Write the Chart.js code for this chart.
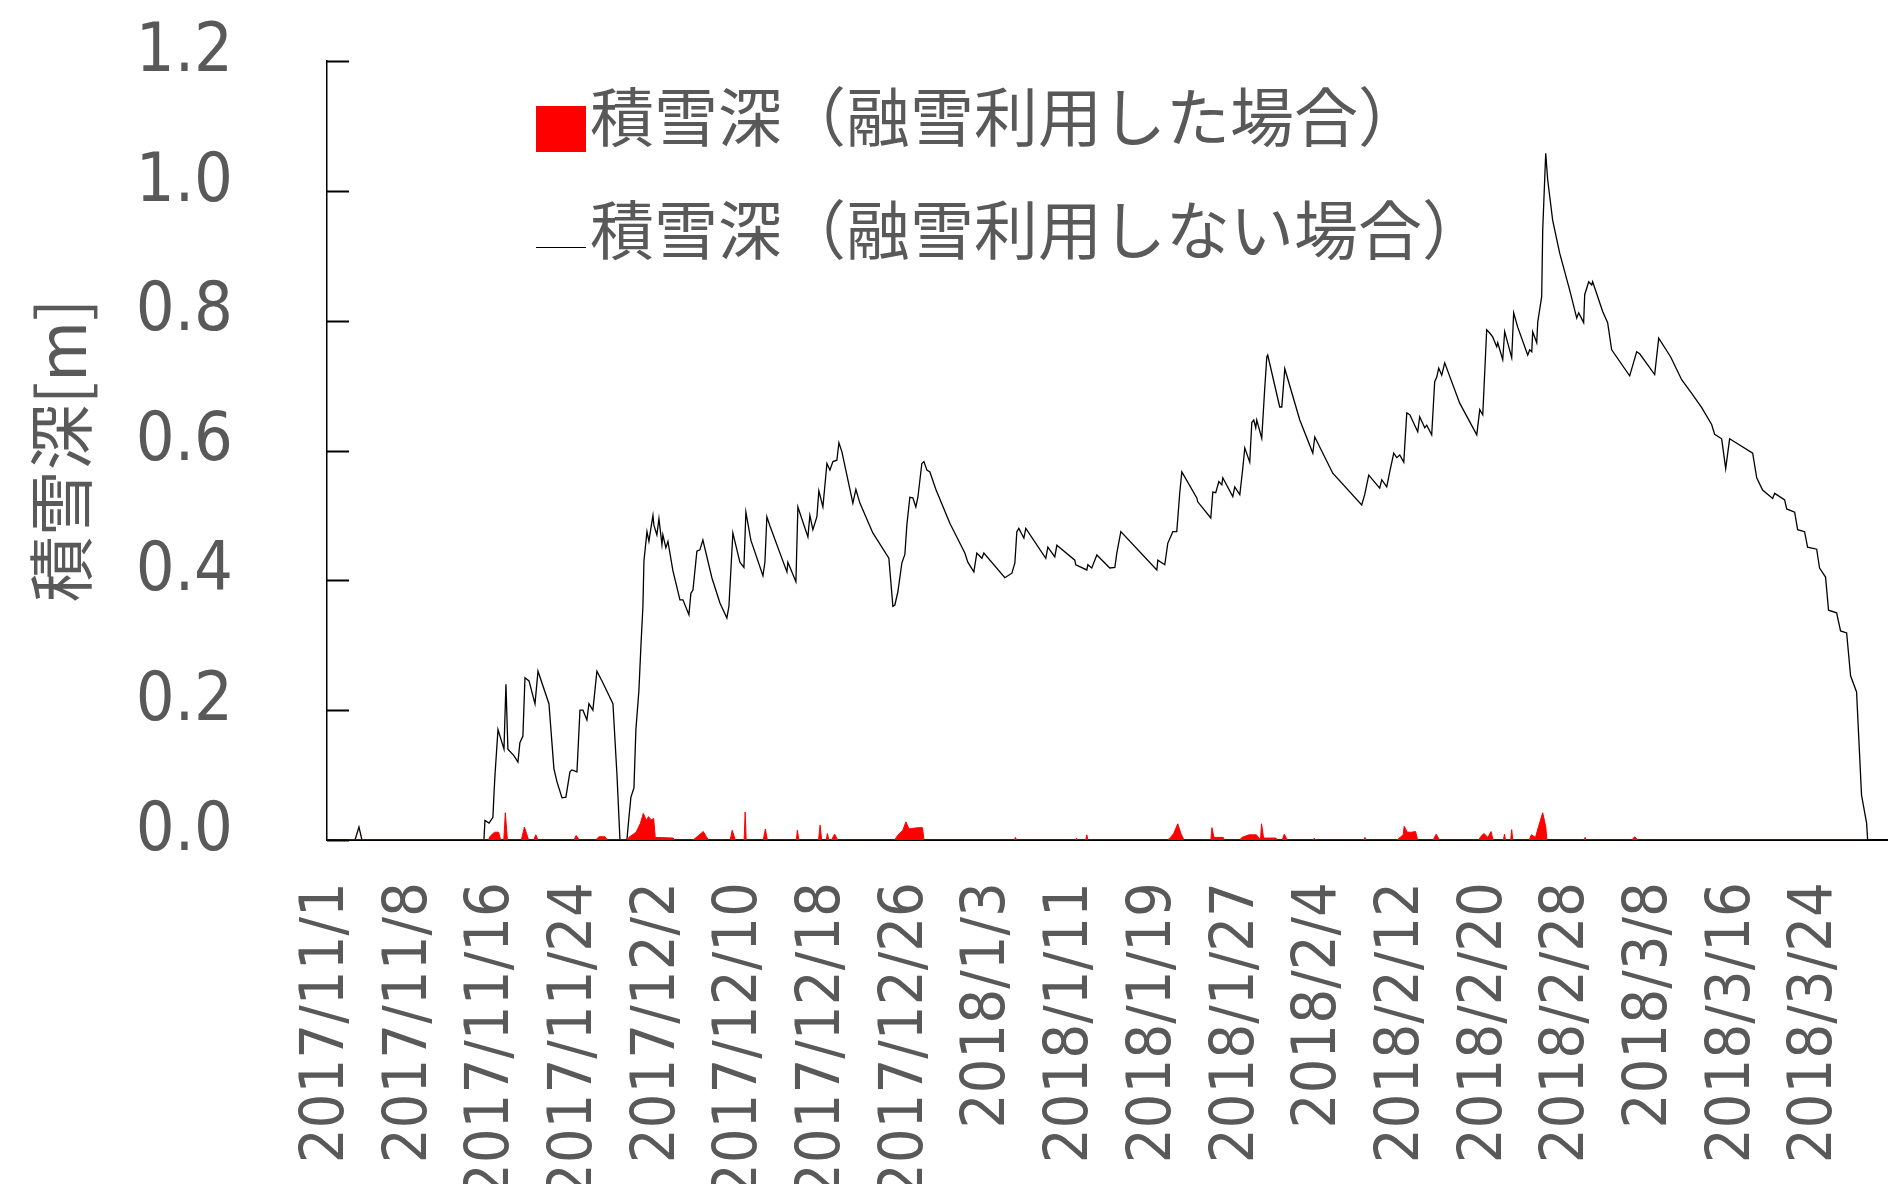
<!DOCTYPE html>
<html lang="ja">
<head>
<meta charset="utf-8">
<title>積雪深</title>
<script src="https://cdn.jsdelivr.net/npm/chart.js@4.4.1/dist/chart.umd.min.js"></script>
<style>
  html, body { margin: 0; padding: 0; background: #fff; }
  #marco { width: 1888px; height: 1184px; }
</style>
</head>
<body>
<div id="marco"><canvas id="graficoNieve" width="1888" height="1184"></canvas></div>
<script>
// === Datos: días transcurridos en el eje y profundidad de nieve [m] ===
const tickLabels = ['2017/11/1', '2017/11/8', '2017/11/16', '2017/11/24', '2017/12/2', '2017/12/10',
  '2017/12/18', '2017/12/26', '2018/1/3', '2018/1/11', '2018/1/19', '2018/1/27', '2018/2/4',
  '2018/2/12', '2018/2/20', '2018/2/28', '2018/3/8', '2018/3/16', '2018/3/24'];
const tickDays = [0, 8, 16, 24, 32, 40, 48, 56, 64, 72, 80, 88, 96, 104, 112, 120, 128, 136, 144];

// 積雪深（融雪利用しない場合）
const noMeltDay = [
  0, 2.71, 3.09, 3.38, 15.18, 15.28, 15.67, 16.05, 16.15, 16.25,
  16.54, 17.12, 17.31, 17.50, 18.08, 18.47, 18.66, 18.95, 19.15, 19.54,
  20.12, 20.41, 21.47, 21.95, 22.24, 22.73, 23.11, 23.50, 23.69, 24.18,
  24.47, 24.76, 25.14, 25.34, 25.72, 26.11, 26.60, 27.66, 28.05, 28.34,
  29.01, 29.21, 29.40, 29.69, 29.88, 30.17, 30.37, 30.56, 30.66, 30.95,
  31.14, 31.33, 31.53, 31.62, 31.91, 32.11, 32.40, 32.49, 32.78, 32.98,
  33.46, 34.14, 34.43, 35.01, 35.20, 35.40, 35.78, 36.07, 36.36, 37.23,
  38.01, 38.68, 38.88, 39.26, 39.94, 40.33, 40.52, 41.00, 42.17, 42.36,
  42.55, 42.84, 44.49, 44.58, 45.36, 45.55, 46.52, 46.71, 47.00, 47.39,
  47.58, 47.97, 48.36, 48.65, 48.94, 49.32, 49.52, 49.81, 50.87, 51.16,
  51.55, 52.80, 54.35, 54.74, 54.93, 55.22, 55.61, 55.90, 56.09, 56.38,
  56.67, 56.96, 57.16, 57.54, 57.74, 58.03, 58.32, 58.90, 60.25, 61.70,
  61.99, 62.57, 62.86, 63.35, 63.54, 65.57, 66.25, 66.54, 66.73, 66.92,
  67.41, 67.60, 69.53, 69.73, 70.40, 70.60, 72.34, 72.43, 73.50, 73.60,
  73.98, 74.47, 75.72, 76.21, 76.40, 76.79, 80.27, 80.37, 81.04, 81.33,
  81.82, 82.20, 82.49, 82.69, 84.14, 84.23, 85.49, 85.69, 85.97, 86.27,
  86.56, 86.65, 87.62, 87.81, 88.30, 88.59, 88.78, 89.26, 89.46, 89.65,
  89.84, 89.94, 90.42, 90.71, 90.91, 91.00, 92.16, 92.36, 92.65, 94.10,
  95.36, 95.55, 97.29, 100.09, 100.38, 100.77, 101.83, 102.03, 102.51, 102.80,
  103.19, 103.48, 103.77, 104.16, 104.45, 104.74, 105.51, 105.70, 106.19, 106.38,
  106.86, 107.15, 107.35, 107.54, 107.83, 108.12, 109.57, 111.22, 111.51, 111.80,
  112.18, 112.47, 112.76, 113.15, 113.25, 113.73, 113.92, 114.60, 114.79, 115.18,
  116.15, 116.34, 116.54, 116.63, 117.02, 117.12, 117.50, 117.60, 117.89, 118.08,
  118.56, 119.24, 120.21, 120.89, 121.08, 121.56, 121.66, 122.05, 122.34, 122.43,
  123.40, 123.88, 124.27, 126.01, 126.69, 126.98, 128.43, 128.82, 129.98, 131.04,
  132.01, 132.98, 133.94, 134.23, 134.91, 135.30, 135.68, 137.91, 138.30, 138.87,
  139.84, 140.04, 141.00, 141.20, 141.97, 142.26, 142.93, 143.22, 144.10, 144.38,
  144.96, 145.25, 146.03, 146.41, 147.00, 147.38, 147.96, 148.44, 148.93, 149.03
];
const noMeltDepth = [
  0, 0, 0.02, 0, 0, 0.03, 0.026, 0.035, 0.07, 0.10,
  0.17, 0.14, 0.24, 0.14, 0.13, 0.12, 0.15, 0.16, 0.25, 0.245,
  0.21, 0.26, 0.21, 0.11, 0.09, 0.065, 0.066, 0.105, 0.108, 0.105,
  0.20, 0.20, 0.185, 0.21, 0.20, 0.26, 0.245, 0.21, 0.10, 0,
  0, 0.035, 0.066, 0.08, 0.17, 0.23, 0.30, 0.36, 0.43, 0.475,
  0.46, 0.48, 0.50, 0.485, 0.47, 0.495, 0.455, 0.47, 0.45, 0.46,
  0.415, 0.37, 0.37, 0.347, 0.38, 0.385, 0.445, 0.447, 0.462, 0.404,
  0.365, 0.342, 0.36, 0.473, 0.428, 0.42, 0.505, 0.462, 0.407, 0.428,
  0.498, 0.484, 0.413, 0.428, 0.398, 0.513, 0.467, 0.50, 0.478, 0.498,
  0.538, 0.513, 0.58, 0.57, 0.583, 0.585, 0.612, 0.598, 0.519, 0.54,
  0.519, 0.473, 0.434, 0.36, 0.362, 0.382, 0.427, 0.44, 0.485, 0.528,
  0.527, 0.513, 0.528, 0.58, 0.583, 0.57, 0.567, 0.54, 0.488, 0.442,
  0.428, 0.413, 0.442, 0.434, 0.442, 0.404, 0.411, 0.427, 0.475, 0.48,
  0.465, 0.48, 0.434, 0.451, 0.436, 0.454, 0.431, 0.424, 0.416, 0.424,
  0.419, 0.439, 0.419, 0.42, 0.442, 0.475, 0.416, 0.431, 0.424, 0.457,
  0.475, 0.475, 0.535, 0.567, 0.527, 0.521, 0.496, 0.536, 0.535, 0.552,
  0.547, 0.558, 0.529, 0.544, 0.532, 0.573, 0.604, 0.582, 0.643, 0.647,
  0.635, 0.647, 0.619, 0.696, 0.744, 0.747, 0.667, 0.667, 0.726, 0.647,
  0.596, 0.621, 0.565, 0.516, 0.532, 0.562, 0.542, 0.555, 0.544, 0.567,
  0.596, 0.589, 0.593, 0.582, 0.658, 0.655, 0.629, 0.652, 0.635, 0.639,
  0.624, 0.706, 0.713, 0.727, 0.716, 0.735, 0.673, 0.624, 0.663, 0.655,
  0.786, 0.781, 0.775, 0.76, 0.766, 0.74, 0.783, 0.743, 0.812, 0.79,
  0.747, 0.755, 0.752, 0.783, 0.766, 0.798, 0.837, 0.94, 1.058, 1.017,
  0.955, 0.904, 0.847, 0.804, 0.812, 0.797, 0.84, 0.86, 0.855, 0.86,
  0.814, 0.797, 0.755, 0.715, 0.752, 0.749, 0.717, 0.773, 0.744, 0.709,
  0.688, 0.666, 0.640, 0.625, 0.618, 0.572, 0.618, 0.596, 0.558, 0.539,
  0.526, 0.534, 0.524, 0.51, 0.505, 0.478, 0.475, 0.451, 0.448, 0.419,
  0.405, 0.354, 0.35, 0.322, 0.319, 0.253, 0.228, 0.069, 0.026, 0
];

// 積雪深（融雪利用した場合）
const meltDay = [
  0, 15.6, 15.8, 16.2, 16.6, 16.8, 17.1, 17.25, 17.45, 18.8,
  19.1, 19.3, 19.5, 20.0, 20.2, 20.4, 23.9, 24.1, 24.4, 26.0,
  26.3, 26.9, 27.1, 29.0, 29.2, 29.9, 30.3, 30.6, 30.9, 31.1,
  31.35, 31.6, 31.75, 33.5, 33.6, 35.4, 35.8, 36.4, 36.7, 36.9,
  39.0, 39.2, 39.5, 40.35, 40.45, 40.55, 42.2, 42.4, 42.6, 45.4,
  45.5, 45.65, 47.55, 47.7, 47.85, 48.3, 48.4, 48.55, 48.8, 49.1,
  49.4, 54.9, 55.2, 55.7, 56.0, 56.3, 56.7, 57.2, 57.6, 57.75,
  66.5, 66.6, 66.7, 72.4, 72.5, 72.6, 73.4, 73.5, 73.6, 81.3,
  81.6, 81.9, 82.3, 82.6, 82.9, 85.5, 85.6, 85.8, 86.7, 86.8,
  88.3, 88.5, 89.2, 89.9, 90.3, 90.4, 90.6, 91.8, 91.9, 92.4,
  92.6, 92.9, 95.4, 95.5, 95.6, 100.3, 100.4, 100.5, 103.5, 103.8,
  104.1, 104.2, 104.5, 104.9, 105.3, 105.5, 107.0, 107.3, 107.6, 111.4,
  111.6, 111.9, 112.3, 112.6, 112.8, 113.8, 113.9, 114.0, 114.5, 114.6,
  114.7, 116.3, 116.5, 116.9, 117.2, 117.6, 117.9, 118.0, 121.6, 121.7,
  121.8, 126.2, 126.5, 126.8, 149
];
const meltDepth = [
  0, 0, 0.006, 0.012, 0.012, 0, 0, 0.042, 0, 0,
  0.02, 0.01, 0, 0, 0.008, 0, 0, 0.007, 0, 0,
  0.005, 0.005, 0, 0, 0.004, 0.012, 0.025, 0.041, 0.03, 0.036,
  0.031, 0.033, 0.004, 0.003, 0, 0, 0.005, 0.013, 0.005, 0,
  0, 0.015, 0, 0, 0.043, 0, 0, 0.017, 0, 0,
  0.015, 0, 0, 0.023, 0, 0, 0.01, 0, 0, 0.009,
  0, 0, 0.007, 0.015, 0.028, 0.017, 0.018, 0.019, 0.019, 0,
  0, 0.004, 0, 0, 0.003, 0, 0, 0.008, 0, 0,
  0.004, 0.01, 0.025, 0.01, 0, 0, 0.019, 0.004, 0.004, 0,
  0, 0.004, 0.008, 0.008, 0, 0.025, 0.003, 0.003, 0, 0,
  0.009, 0, 0, 0.003, 0, 0, 0.004, 0, 0, 0.004,
  0.008, 0.021, 0.012, 0.012, 0.013, 0, 0, 0.009, 0, 0,
  0.005, 0.01, 0.004, 0.013, 0, 0, 0.009, 0, 0, 0.016,
  0, 0, 0.008, 0.004, 0.021, 0.042, 0.02, 0, 0, 0.004,
  0, 0, 0.005, 0, 0
];

const aPuntos = (xs, ys) => xs.map((x, i) => ({ x: x, y: ys[i] }));

const GRIS = '#595959';
const FUENTE_NUM = '"DejaVu Sans Condensed", "DejaVu Sans", sans-serif';
const FUENTE_JP = '"Noto Sans CJK JP", "Noto Sans", sans-serif';

// Marcas del eje Y hacia dentro (mayores cada 0.2, menores cada 0.1)
const marcasInternas = {
  id: 'marcasInternas',
  afterDatasetsDraw(chart) {
    const { ctx, chartArea, scales: { y } } = chart;
    ctx.save();
    ctx.strokeStyle = '#000';
    y.ticks.forEach(t => {
      const py = Math.round(y.getPixelForValue(t.value)) + 0.5;
      const mayor = Math.round(t.value * 10) % 2 === 0;
      ctx.lineWidth = mayor ? 2 : 1.5;
      ctx.beginPath();
      ctx.moveTo(chartArea.left, py);
      ctx.lineTo(chartArea.left + (mayor ? 22 : 17), py);
      ctx.stroke();
    });
    ctx.restore();
  }
};

// Leyenda dentro del área del gráfico
const leyenda = {
  id: 'leyenda',
  afterDraw(chart) {
    const ctx = chart.ctx;
    ctx.save();
    ctx.fillStyle = '#ff0000';
    ctx.fillRect(536, 106, 50, 46);
    ctx.strokeStyle = '#000';
    ctx.lineWidth = 1;
    ctx.beginPath();
    ctx.moveTo(536, 247.5);
    ctx.lineTo(586, 247.5);
    ctx.stroke();
    ctx.font = '64px ' + FUENTE_JP;
    ctx.fillStyle = GRIS;
    ctx.textBaseline = 'middle';
    ctx.textAlign = 'left';
    ctx.fillText('積雪深（融雪利用した場合）', 590, 117);
    ctx.fillText('積雪深（融雪利用しない場合）', 590, 230);
    ctx.restore();
  }
};

document.addEventListener('DOMContentLoaded', () => {
  const ctx = document.getElementById('graficoNieve').getContext('2d');

  new Chart(ctx, {
    type: 'line',
    data: {
      datasets: [
        {
          label: '積雪深（融雪利用した場合）',
          data: aPuntos(meltDay, meltDepth),
          borderColor: '#ff0000',
          backgroundColor: '#ff0000',
          borderWidth: 1,
          fill: 'origin',
          pointRadius: 0,
          tension: 0
        },
        {
          label: '積雪深（融雪利用しない場合）',
          data: aPuntos(noMeltDay, noMeltDepth),
          borderColor: '#000000',
          borderWidth: 1.3,
          fill: false,
          pointRadius: 0,
          tension: 0
        }
      ]
    },
    options: {
      responsive: false,
      animation: false,
      devicePixelRatio: 1,
      layout: { padding: { top: 61, left: 0, right: 0, bottom: 0 } },
      plugins: {
        legend: { display: false },
        tooltip: { enabled: false }
      },
      scales: {
        x: {
          type: 'linear',
          min: 0,
          max: 151,
          afterBuildTicks: scale => {
            scale.ticks = tickDays.map(v => ({ value: v }));
          },
          afterFit: scale => {
            scale.height = 344;
            scale.paddingLeft = 0;
            scale.paddingRight = 0;
          },
          grid: { display: false },
          border: { display: true, color: '#000', width: 2 },
          ticks: {
            autoSkip: false,
            minRotation: 90,
            maxRotation: 90,
            padding: 34,
            labelOffset: 0,
            color: GRIS,
            font: { family: FUENTE_NUM, size: 61 },
            callback: (value, index) => tickLabels[index]
          }
        },
        y: {
          min: 0,
          max: 1.2,
          afterFit: scale => {
            scale.width = 327;
            scale.paddingTop = 0;
            scale.paddingBottom = 0;
          },
          grid: { display: false },
          border: { display: true, color: '#000', width: 1.5 },
          title: {
            display: true,
            text: '積雪深[m]',
            color: GRIS,
            font: { family: FUENTE_JP, size: 66 },
            padding: { top: 21, bottom: 0 }
          },
          ticks: {
            stepSize: 0.1,
            padding: 86,
            labelOffset: -8,
            color: GRIS,
            font: { family: FUENTE_NUM, size: 68 },
            callback: v => (Math.round(v * 10) % 2 === 0 ? v.toFixed(1) : '')
          }
        }
      }
    },
    plugins: [marcasInternas, leyenda]
  });
});
</script>
</body>
</html>
